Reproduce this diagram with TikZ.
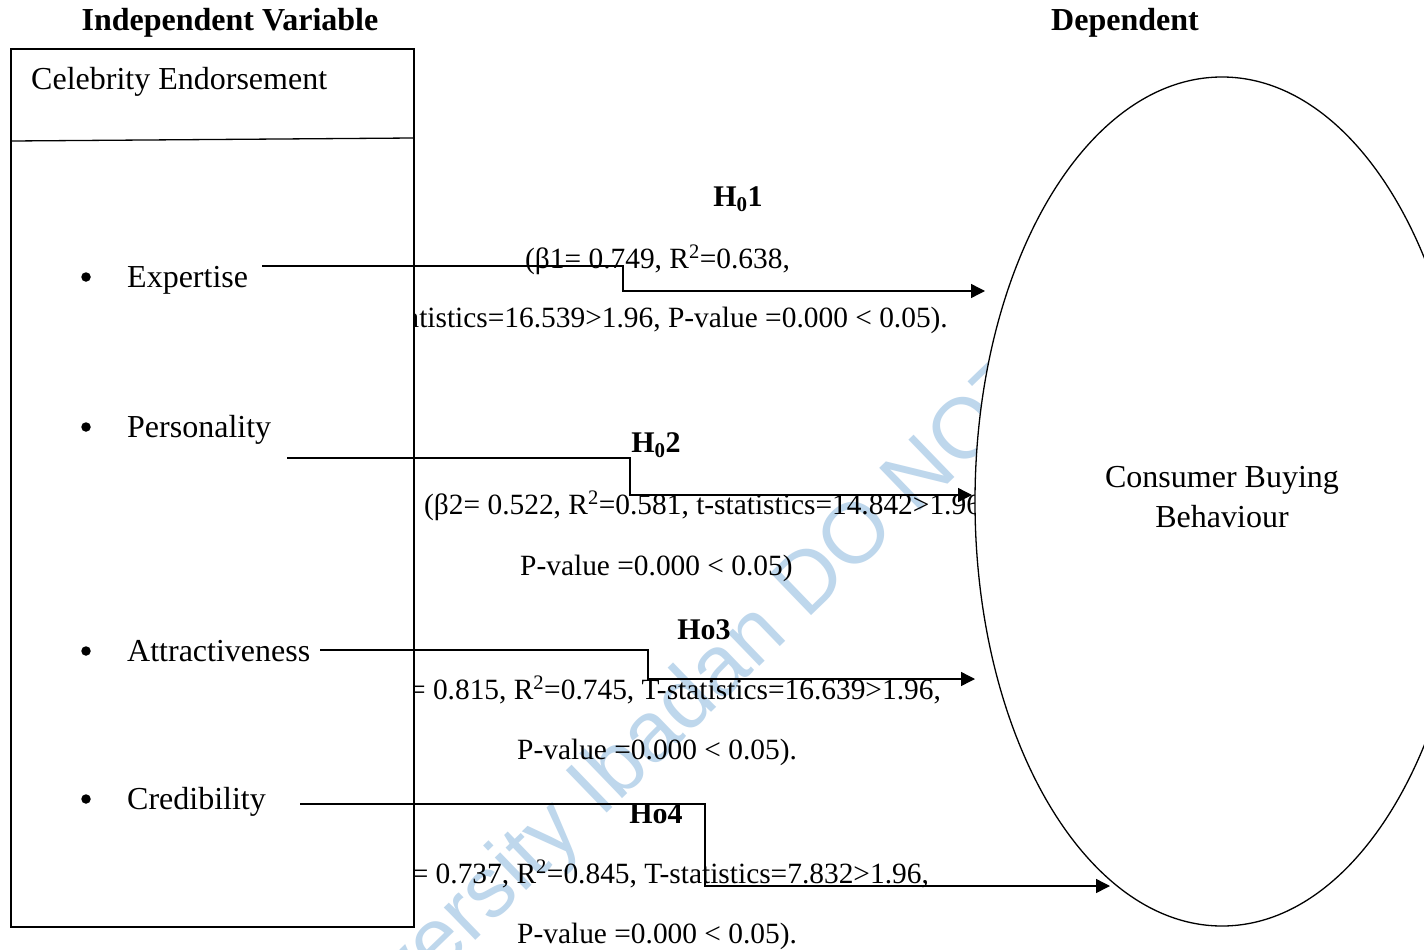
\documentclass[tikz,border=0pt]{standalone}
\usepackage{fontspec}
\setmainfont{Liberation Serif}
\newfontfamily\wmfont{Liberation Sans}
\usetikzlibrary{arrows.meta,shapes.geometric}
\definecolor{wmblue}{RGB}{190,215,236}

\begin{document}
\begin{tikzpicture}[x=1pt,y=-1pt,
  bodytext/.style={inner sep=0pt, font=\fontsize{32}{40}\selectfont},
  headtext/.style={inner sep=0pt, font=\fontsize{32}{40}\selectfont\bfseries},
  hyptext/.style={inner sep=0pt, font=\fontsize{30}{36}\selectfont\bfseries},
  stattext/.style={inner sep=0pt, font=\fontsize{29.4}{36}\selectfont},
  bulletdot/.style={circle, fill=black, inner sep=0pt, minimum size=9.5pt},
  link/.style={line width=1.4pt, -{Triangle[length=14pt,width=14pt]}},
  ]
\useasboundingbox (0,0) rectangle (1424,950);
\clip (0,0) rectangle (1424,950);
\fill[white] (0,0) rectangle (1424,950);

% watermark
\node[text=wmblue, font=\wmfont\fontsize{85.5}{86}\selectfont, rotate=44,
      anchor=base west, inner sep=0pt] (wm) at (314,1096) {University Ibadan DO NOT};

% headings
\node[headtext, anchor=base] (ivhead) at (230,31) {Independent Variable};
\node[headtext, anchor=base] (dvhead) at (1125,31) {Dependent};

% hypothesis labels and statistics
\node[hyptext, anchor=base] (h1) at (738,206) {H\textsubscript{0}1};
\node[stattext, anchor=base west] (h1a) at (525,268) {(β1= 0.749, R\textsuperscript{2}=0.638,};
\node[stattext, anchor=base east] (h1b) at (948,327) {(t-statistics=16.539>1.96, P-value =0.000 < 0.05).};

\node[hyptext, anchor=base] (h2) at (656,452) {H\textsubscript{0}2};
\node[stattext, anchor=base west] (h2a) at (424,514) {(β2= 0.522, R\textsuperscript{2}=0.581, t-statistics=14.842>1.96,};
\node[stattext, anchor=base west] (h2b) at (520,575) {P-value =0.000 < 0.05)};

\node[hyptext, anchor=base] (h3) at (704,639) {Ho3};
\node[stattext, anchor=base east] (h3a) at (941,699) {(β3= 0.815, R\textsuperscript{2}=0.745, T-statistics=16.639>1.96,};
\node[stattext, anchor=base west] (h3b) at (517,759) {P-value =0.000 < 0.05).};

\node[hyptext, anchor=base] (h4) at (656,823) {Ho4};
\node[stattext, anchor=base east] (h4a) at (929,883) {(β4= 0.737, R\textsuperscript{2}=0.845, T-statistics=7.832>1.96,};
\node[stattext, anchor=base west] (h4b) at (517,943) {P-value =0.000 < 0.05).};

% independent variable box
\node[draw, fill=white, line width=1.6pt, minimum width=403pt, minimum height=878pt,
      anchor=north west, inner sep=0pt] (ivbox) at (10,48) {};
\coordinate (d1) at (12,141);
\coordinate (d2) at (413,138);
\draw[line width=1.3pt] (d1) -- (d2);
\node[bodytext, anchor=base west] (ce) at (31,89) {Celebrity Endorsement};

\node[bulletdot] (b1) at (86,277) {};
\node[bodytext, anchor=base west] (exp) at (127,287) {Expertise};
\node[bulletdot] (b2) at (86,427) {};
\node[bodytext, anchor=base west] (per) at (127,437) {Personality};
\node[bulletdot] (b3) at (86,651) {};
\node[bodytext, anchor=base west] (att) at (127,661) {Attractiveness};
\node[bulletdot] (b4) at (86,799) {};
\node[bodytext, anchor=base west] (cre) at (127,809) {Credibility};

% dependent variable
\node[draw, fill=white, ellipse, line width=1.3pt, minimum width=494pt, minimum height=849pt,
      inner sep=0pt] (cbb) at (1222,501.5) {};
\node[bodytext, anchor=base] (cbb1) at (1222,487) {Consumer Buying};
\node[bodytext, anchor=base] (cbb2) at (1222,527) {Behaviour};

% connectors
\coordinate (s1) at (262,266); \coordinate (k1) at (623,291); \coordinate (e1) at (985,291);
\coordinate (s2) at (287,458); \coordinate (k2) at (630,495); \coordinate (e2) at (972,495);
\coordinate (s3) at (320,650); \coordinate (k3) at (648,679); \coordinate (e3) at (975,679);
\coordinate (s4) at (300,804); \coordinate (k4) at (705,886); \coordinate (e4) at (1110,886);
\draw[link] (s1) -| (k1) -- (e1);
\draw[link] (s2) -| (k2) -- (e2);
\draw[link] (s3) -| (k3) -- (e3);
\draw[link] (s4) -| (k4) -- (e4);
\end{tikzpicture}
\end{document}
